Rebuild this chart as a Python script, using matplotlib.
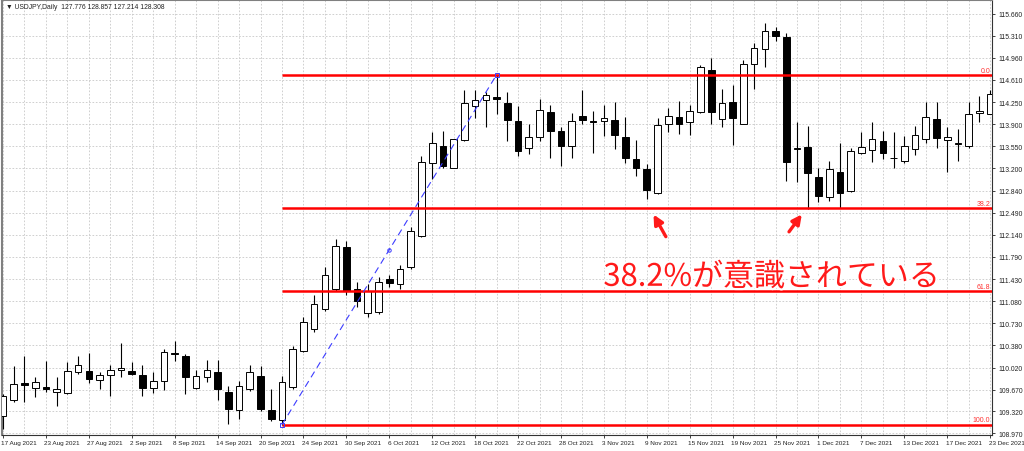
import numpy as np
import matplotlib.pyplot as plt
import matplotlib.patheffects as pe
from matplotlib.transforms import ScaledTranslation

# USDJPY daily candles, 17 Aug 2021 .. 23 Dec 2021
opens = [109.25, 109.50, 109.78, 109.69, 109.71, 109.63, 109.61, 109.95, 109.97, 109.82,
         109.90, 109.98, 109.97, 109.90, 109.69, 109.81, 110.25, 110.21, 109.69, 109.87,
         109.95, 109.63, 109.34, 109.68, 109.89, 109.35, 109.19, 109.71, 110.28, 110.64,
         110.95, 111.27, 111.94, 111.27, 110.89, 110.91, 111.43, 111.35, 111.62, 112.12,
         113.28, 113.55, 113.21, 113.65, 114.19, 114.29, 114.33, 114.24, 113.96, 113.53,
         113.69, 114.09, 113.80, 113.55, 114.04, 113.96, 113.96, 113.97, 113.69, 113.35,
         113.19, 112.80, 113.90, 114.02, 113.93, 114.09, 114.76, 113.99, 114.25, 113.91,
         114.86, 115.10, 115.39, 115.30, 113.51, 113.54, 113.06, 112.74, 113.14, 112.83,
         113.44, 113.49, 113.64, 113.37, 113.31, 113.51, 113.67, 113.99, 113.65, 113.58,
         113.56, 114.08, 114.07]
highs = [109.60, 110.05, 110.21, 109.87, 110.13, 109.87, 110.11, 110.21, 110.25, 109.95,
         110.06, 110.41, 110.11, 110.06, 109.95, 110.32, 110.44, 110.24, 109.98, 110.14,
         110.14, 109.73, 109.81, 110.06, 110.04, 109.68, 109.89, 110.36, 110.83, 111.18,
         111.62, 112.07, 112.04, 111.39, 111.35, 111.47, 111.50, 111.66, 112.26, 113.39,
         113.78, 113.80, 113.67, 114.45, 114.44, 114.41, 114.69, 114.41, 114.19, 113.91,
         114.30, 114.21, 113.85, 114.08, 114.44, 114.12, 114.21, 114.26, 114.01, 113.65,
         113.27, 114.00, 114.16, 114.28, 114.21, 114.84, 114.95, 114.47, 114.53, 114.93,
         115.19, 115.52, 115.45, 115.36, 113.93, 113.87, 113.20, 113.32, 113.60, 113.53,
         113.77, 113.94, 113.80, 113.77, 113.72, 113.88, 114.25, 114.25, 113.85, 113.83,
         114.25, 114.35, 114.45]
lows = [109.04, 109.47, 109.47, 109.55, 109.63, 109.41, 109.60, 109.92, 109.77, 109.68,
        109.57, 109.87, 109.90, 109.57, 109.61, 109.66, 110.13, 109.60, 109.68, 109.79,
        109.50, 109.12, 109.20, 109.65, 109.33, 109.17, 109.11, 109.68, 110.27, 110.59,
        110.92, 111.24, 111.18, 110.99, 110.83, 110.88, 111.31, 111.27, 111.59, 112.10,
        113.03, 113.21, 113.20, 113.63, 114.00, 113.85, 114.07, 113.64, 113.40, 113.43,
        113.64, 113.37, 113.24, 113.37, 113.90, 113.45, 113.71, 113.50, 113.28, 113.07,
        112.71, 112.79, 113.78, 113.75, 113.73, 114.08, 113.91, 113.85, 113.57, 113.90,
        114.47, 114.81, 115.23, 112.99, 112.98, 112.55, 112.66, 112.67, 112.56, 112.82,
        113.43, 113.30, 113.35, 113.21, 113.29, 113.41, 113.61, 113.53, 113.14, 113.32,
        113.53, 113.93, 114.06]
closes = [109.57, 109.76, 109.75, 109.79, 109.68, 109.68, 109.97, 110.06, 109.84, 109.90,
          109.98, 110.01, 109.92, 109.69, 109.81, 110.27, 110.24, 109.87, 109.89, 109.98,
          109.68, 109.36, 109.73, 109.95, 109.36, 109.20, 109.79, 110.32, 110.75, 111.03,
          111.50, 111.96, 111.24, 111.08, 111.24, 111.39, 111.37, 111.59, 112.20, 113.30,
          113.60, 113.23, 113.66, 114.24, 114.29, 114.37, 114.31, 113.97, 113.47, 113.69,
          114.13, 113.79, 113.55, 113.95, 113.97, 113.93, 114.00, 113.73, 113.37, 113.21,
          112.86, 113.89, 114.04, 113.90, 114.12, 114.81, 114.09, 114.24, 114.00, 114.86,
          115.11, 115.39, 115.31, 113.30, 113.52, 113.12, 112.75, 113.18, 112.80, 113.48,
          113.54, 113.67, 113.44, 113.36, 113.56, 113.73, 114.02, 113.68, 113.69, 113.61,
          114.07, 114.11, 114.38]

date_labels = ['17 Aug 2021', '23 Aug 2021', '27 Aug 2021', '2 Sep 2021', '8 Sep 2021',
               '14 Sep 2021', '20 Sep 2021', '24 Sep 2021', '30 Sep 2021', '6 Oct 2021',
               '12 Oct 2021', '18 Oct 2021', '22 Oct 2021', '28 Oct 2021', '3 Nov 2021',
               '9 Nov 2021', '15 Nov 2021', '19 Nov 2021', '25 Nov 2021', '1 Dec 2021',
               '7 Dec 2021', '13 Dec 2021', '17 Dec 2021', '23 Dec 2021']
price_ticks = [115.660, 115.310, 114.960, 114.610, 114.250, 113.900, 113.550, 113.200,
               112.840, 112.490, 112.140, 111.790, 111.430, 111.080, 110.730, 110.380,
               110.020, 109.670, 109.320, 108.970]

# fibonacci swing: low bar / high bar
fib_low_bar, fib_high_bar = 26, 46
fib_low, fib_high = 109.11, 114.69
fib_pcts = [0.0, 38.2, 61.8, 100.0]

o = np.array(opens); h = np.array(highs); l = np.array(lows); c = np.array(closes)
x = np.arange(len(o))

small = 'Liberation Sans'

fig = plt.figure(figsize=(10.24, 4.52), dpi=100)
ax = fig.add_axes([2/1024, 16/452, 990/1024, 435/452])

# candles
ax.vlines(x, l, h, color='black', lw=0.8, zorder=3)
up = c >= o
body_bot = np.minimum(o, c)
body_h = np.abs(c - o)
ax.bar(x[up], body_h[up], bottom=body_bot[up], width=0.62, color='white',
       edgecolor='black', lw=0.7, zorder=4)
ax.bar(x[~up], body_h[~up], bottom=body_bot[~up], width=0.62, color='black',
       edgecolor='black', lw=0.7, zorder=4)

# fibo levels
rng = fib_high - fib_low
for pct in fib_pcts:
    lvl = fib_high - rng * pct / 100
    ax.hlines(lvl, fib_low_bar, x[-1] + 1, color='#ff0000', lw=1.8, zorder=5)
    ax.text(92.0, lvl + 0.02, '%.1f' % pct, color='#ff3030', fontsize=5,
            family=small, ha='right', va='bottom', zorder=6)

# trend line of the fibo
ax.plot([fib_low_bar, fib_high_bar], [fib_low, fib_high], color='#3c3cff',
        lw=0.8, ls=(0, (6, 4)), zorder=5)
ax.plot([fib_low_bar, fib_high_bar], [fib_low, fib_high], ls='none', marker='s',
        ms=2.5, mfc='none', mec='#3c3cff', mew=0.7, zorder=6)
ax.plot([(fib_low_bar + fib_high_bar) / 2], [(fib_low + fib_high) / 2], ls='none',
        marker='o', ms=2.5, mfc='none', mec='#3c3cff', mew=0.7, zorder=6)

# axes / grid
ax.set_xlim(-0.093, 92.17)
ax.set_ylim(108.945, 115.883)
ax.yaxis.tick_right()
ax.set_yticks(price_ticks)
ax.set_yticklabels(['%.3f' % v for v in price_ticks])
ax.set_xticks(np.arange(0, len(o), 4))
ax.set_xticklabels(date_labels)
ax.set_xticks(np.arange(0, len(o), 2), minor=True)
ax.tick_params(axis='both', labelsize=4.9, length=2, width=0.6, pad=1.5, colors='#222222')
ax.tick_params(axis='x', labelsize=4.6)
ax.tick_params(axis='y', pad=2.5)
ax.tick_params(axis='x', which='minor', length=0)
shift = ScaledTranslation(-1.5 / 100, 0, fig.dpi_scale_trans)
for t in ax.get_xticklabels() + ax.get_yticklabels():
    t.set_family(small)
for t in ax.get_xticklabels():
    t.set_ha('left')
    t.set_transform(t.get_transform() + shift)
ax.grid(True, axis='y', color='#c8c8c8', lw=0.6, ls=(0, (2, 2)))
ax.grid(True, axis='x', which='both', color='#c8c8c8', lw=0.6, ls=(0, (2, 2)))
ax.set_axisbelow(True)
for side in ['left', 'top']:
    ax.spines[side].set_color('#808080')
    ax.spines[side].set_linewidth(1.5)
for side in ['right', 'bottom']:
    ax.spines[side].set_color('#333333')
    ax.spines[side].set_linewidth(0.8)

ax.text(0.004, 0.992, '\u25bc USDJPY,Daily  127.776 128.857 127.214 128.308',
        transform=ax.transAxes, fontsize=4.9, family=[small, 'DejaVu Sans'],
        va='top', ha='left', color='#222222')

# annotation
ax.annotate('', xy=(60.5, 112.50), xytext=(61.9, 112.07),
            arrowprops=dict(arrowstyle='-|>', color='#ff1a1a', lw=2.4, mutation_scale=14))
ax.annotate('', xy=(74.6, 112.50), xytext=(73.1, 112.15),
            arrowprops=dict(arrowstyle='-|>', color='#ff1a1a', lw=2.4, mutation_scale=14))
ax.text(55.95, 111.46, '38.2%が意識されている', family=['Noto Sans CJK JP', 'DejaVu Sans'],
        fontsize=22.3, color='#ff1a1a', ha='left', va='center', zorder=7,
        path_effects=[pe.withStroke(linewidth=3, foreground='white')])

fig.savefig('out.png', dpi=100)
